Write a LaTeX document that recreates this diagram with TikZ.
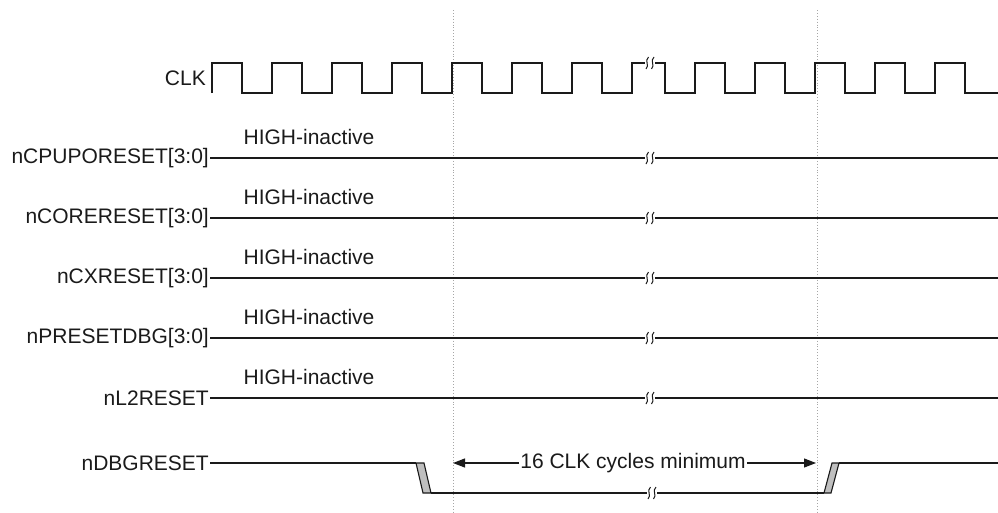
\documentclass[tikz,border=0pt]{standalone}
\usepackage{fontspec}
\setmainfont{Liberation Sans}
\usetikzlibrary{arrows.meta}
\definecolor{ink}{HTML}{1A1A1A}
\tikzset{
  sig/.style={draw=ink, line width=1.2pt, line join=miter},
  lbl/.style={font=\fontsize{21}{25}\selectfont, text=ink, inner sep=1pt},
  guide/.style={draw=gray!70, line width=0.9pt, dotted},
  trans/.style={draw=ink, fill=gray!50, line width=1.1pt, line join=miter},
  pics/brk/.style={code={
    \fill[white] (-5,-5) rectangle (5,5);
    \draw[ink, line width=1.0pt] (-4,6) .. controls (0,2) and (-6,-2) .. (-1.5,-6);
    \draw[ink, line width=1.0pt] (1.5,6) .. controls (5.5,2) and (-0.5,-2) .. (4,-6);
  }}
}
\begin{document}
\begin{tikzpicture}[x=1pt,y=-1pt]
\useasboundingbox (0,0) rectangle (998,512);
% guides
\coordinate (g1top) at (453,10); \coordinate (g1bot) at (453,512);
\coordinate (g2top) at (817,10); \coordinate (g2bot) at (817,512);
\draw[guide] (g1top) -- (g1bot);
\draw[guide] (g2top) -- (g2bot);
% CLK
\node[lbl, anchor=east] (clk) at (207,78) {CLK};
\draw[sig] (212,93) foreach \i in {0,...,6}{ -- ++(0,-30) -- ++(30,0) -- ++(0,30) -- ++(30,0)}
  -- ++(0,-30) -- ++(33,0) -- ++(0,30) -- ++(30,0)
  foreach \i in {0,...,4}{ -- ++(0,-30) -- ++(30,0) -- ++(0,30) -- ++(30,0)} -- ++(3,0);
\pic at (650,63) {brk};
% static signals
\foreach \nm/\txt/\y in {a/nCPUPORESET[3:0]/158, b/nCORERESET[3:0]/218, c/nCXRESET[3:0]/278, d/nPRESETDBG[3:0]/338, e/nL2RESET/398}{
  \node[lbl, anchor=east] (\nm) at (210,\y) {\txt};
  \node[lbl] (\nm h) at (309,\y-21) {HIGH-inactive};
  \coordinate (\nm end) at (998,\y);
  \draw[sig] (\nm.east) -- (\nm end);
  \pic at (650,\y) {brk};
}
% nDBGRESET
\node[lbl, anchor=east] (dbg) at (210,463) {nDBGRESET};
\coordinate (f1) at (416,463);
\coordinate (l1) at (431,493);
\coordinate (l2) at (824,493);
\coordinate (r2) at (839,463);
\coordinate (dend) at (998,463);
\draw[sig] (dbg.east) -- (f1);
\draw[trans] (416,463) -- (424,463) -- (431,493) -- (423,493) -- cycle;
\draw[sig] (l1) -- (l2);
\draw[trans] (824,493) -- (831,493) -- (839,463) -- (832,463) -- cycle;
\draw[sig] (r2) -- (dend);
\pic at (652,493) {brk};
% measurement
\node[lbl, fill=white, inner sep=1pt] (meas) at (633,463) {16 CLK cycles minimum};
\coordinate (mL) at (453,463); \coordinate (mR) at (816,463);
\draw[draw=ink, line width=1.1pt, -{Triangle[length=12pt,width=9pt]}] (meas.west) -- (mL);
\draw[draw=ink, line width=1.1pt, -{Triangle[length=12pt,width=9pt]}] (meas.east) -- (mR);
\end{tikzpicture}
\end{document}
